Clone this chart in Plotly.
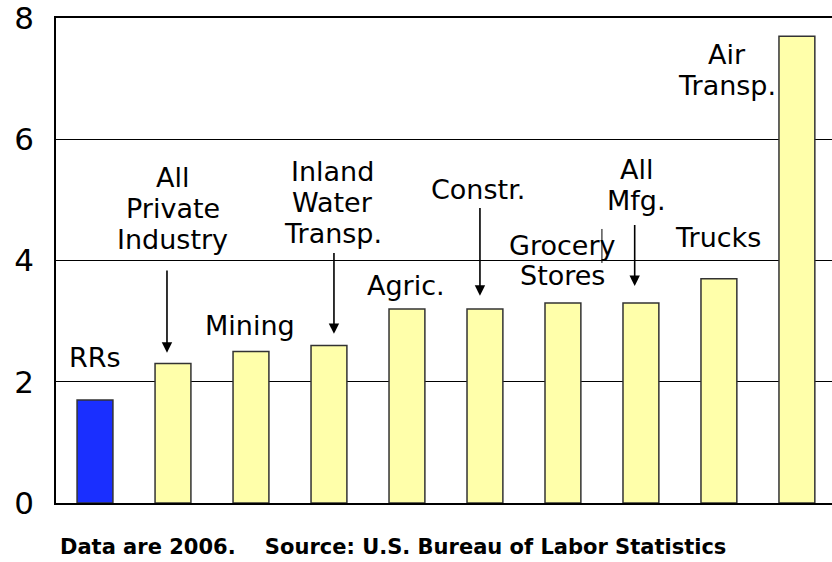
import plotly.graph_objects as go

categories = ["RRs", "All Private Industry", "Mining", "Inland Water Transp.", "Agric.",
              "Constr.", "Grocery Stores", "All Mfg.", "Trucks", "Air Transp."]
values = [1.7, 2.3, 2.5, 2.6, 3.2, 3.2, 3.3, 3.3, 3.7, 7.7]
bar_colors = ["#1a2fff"] + ["#ffffaa"] * 9
y_ticks = [0, 2, 4, 6, 8]

# label texts (lines) and their centre positions (category index, y value)
label_lines = [["RRs"], ["All", "Private", "Industry"], ["Mining"], ["Inland", "Water", "Transp."],
               ["Agric."], ["Constr."], ["Grocery", "Stores"], ["All", "Mfg."], ["Trucks"],
               ["Air", "Transp."]]
label_x = [0.0, 1.0, 1.99, 3.05, 3.99, 4.91, 5.99, 6.94, 7.99, 8.10]
label_y = [2.40, 4.86, 2.92, 4.96, 3.58, 5.17, 4.00, 5.25, 4.38, 7.14]
LINE_STEP = 0.51  # line spacing in y units

# arrows: (x, y tail, y head)
arrow_x = [0.923, 3.064, 4.936, 6.92]
arrow_tail = [3.86, 4.15, 4.89, 4.61]
arrow_head = [2.48, 2.79, 3.42, 3.58]

FONT = "DejaVu Sans"

fig = go.Figure(go.Bar(
    x=list(range(len(categories))), y=values,
    marker=dict(color=bar_colors, line=dict(color="#333333", width=1.5)),
    width=0.46, hovertext=categories,
))

annotations = []
for lines, x, yc in zip(label_lines, label_x, label_y):
    n = len(lines)
    for i, t in enumerate(lines):
        y = yc + ((n - 1) / 2 - i) * LINE_STEP
        annotations.append(dict(x=x, y=y, xref="x", yref="y", text=t, showarrow=False,
                                font=dict(family=FONT, size=27, color="black"),
                                xanchor="center", yanchor="middle"))
for x, yt, yh in zip(arrow_x, arrow_tail, arrow_head):
    annotations.append(dict(x=x, y=yh, ax=x, ay=yt, xref="x", yref="y", axref="x", ayref="y",
                            text="", showarrow=True, arrowhead=2, arrowsize=1.3, arrowwidth=1.6,
                            arrowcolor="black"))
annotations.append(dict(x=0.003, y=-0.09, xref="paper", yref="paper",
                        text="Data are 2006.&nbsp;&nbsp;&nbsp;&nbsp;Source: U.S. Bureau of Labor Statistics",
                        showarrow=False, xanchor="left", yanchor="middle",
                        font=dict(family="DejaVu Sans", size=21, color="black", weight="bold")))

fig.update_layout(
    width=832, height=562,
    margin=dict(l=56, r=0, t=16, b=59),
    paper_bgcolor="white", plot_bgcolor="white",
    showlegend=False,
    annotations=annotations,
    shapes=[dict(type="line", xref="x", yref="y", x0=6.5, x1=6.5, y0=3.96, y1=4.52,
                 line=dict(color="black", width=1))],
    xaxis=dict(range=[-0.5, 9.45], showticklabels=False, showgrid=False, zeroline=False,
               showline=True, linecolor="black", linewidth=1.5, ticks="", mirror=True),
    yaxis=dict(range=[0, 8], tickvals=y_ticks, showgrid=True, gridcolor="black", gridwidth=1,
               zeroline=False, showline=True, linecolor="black", linewidth=1.5, ticks="",
               tickfont=dict(family=FONT, size=31, color="black"), ticklabelstandoff=14,
               ticklabeloverflow="allow"),
)

fig.write_html("out.html", config={"displayModeBar": False},
               post_script="document.body.style.margin='0';")
